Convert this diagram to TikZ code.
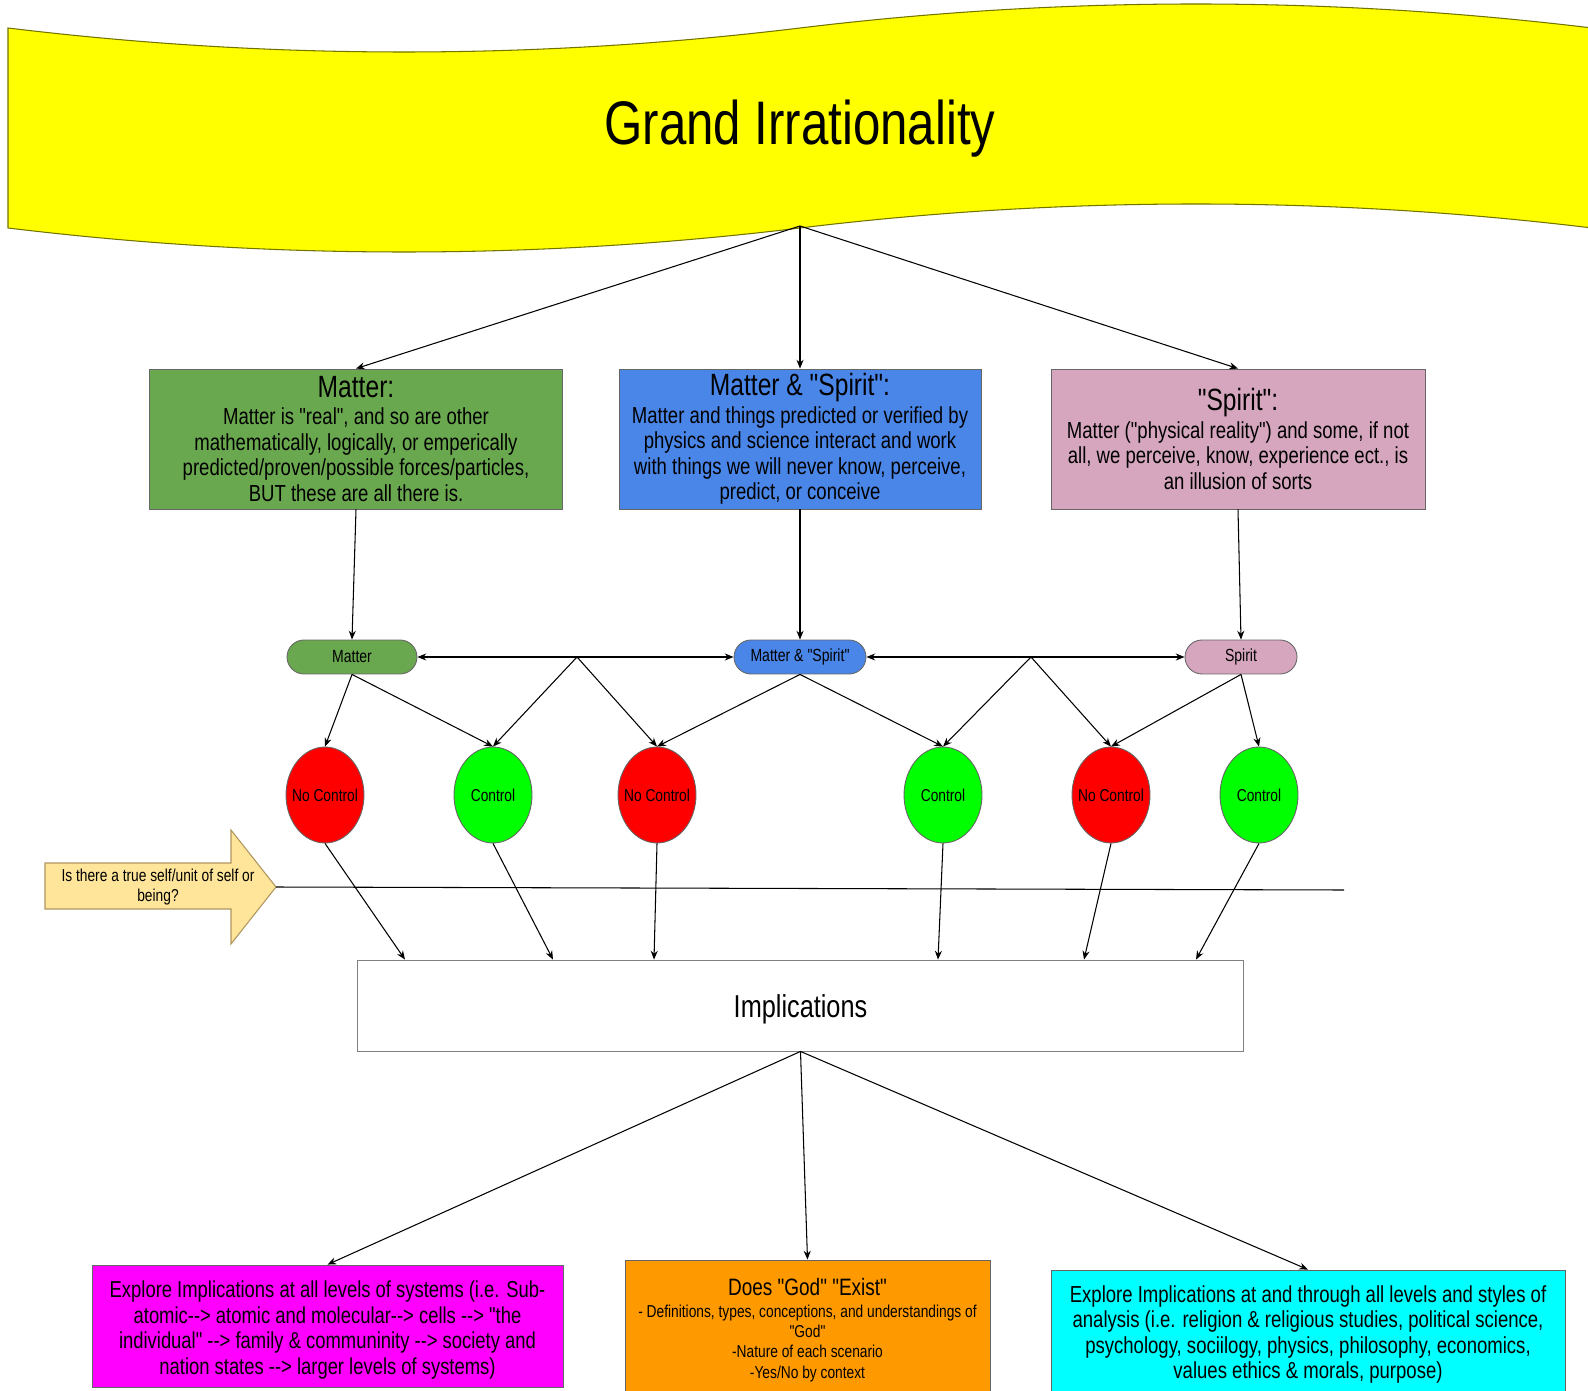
\documentclass[tikz,border=0pt]{standalone}
\usepackage{fontspec}
\setmainfont{Liberation Sans}[FakeStretch=0.8,Ligatures=TeXOff]
\usetikzlibrary{arrows.meta,shapes.geometric}
\definecolor{bannery}{RGB}{255,255,0}
\definecolor{matgreen}{RGB}{106,168,79}
\definecolor{msblue}{RGB}{74,134,232}
\definecolor{spink}{RGB}{213,166,189}
\definecolor{nored}{RGB}{255,0,0}
\definecolor{yesgreen}{RGB}{0,255,0}
\definecolor{selffill}{RGB}{255,229,153}
\definecolor{selfline}{RGB}{175,150,95}
\definecolor{levmagenta}{RGB}{255,0,255}
\definecolor{godorange}{RGB}{255,153,0}
\definecolor{stycyan}{RGB}{0,255,255}
\begin{document}
\begin{tikzpicture}[x=0.02cm,y=-0.02cm,
  >={Stealth[length=5pt,width=4pt]},
  link/.style={->,line width=0.6pt},
  bigbox/.style={draw=black!60,line width=0.5pt,minimum height=2.8cm,align=center,inner sep=1pt,font=\fontsize{13.2}{14.5}\selectfont},
  boxtext/.style={align=center,inner sep=0pt,font=\fontsize{13.2}{14.5}\selectfont},
  pill/.style={draw=black!60,line width=0.5pt,rounded corners=0.34cm,minimum height=0.68cm,inner sep=0pt,font=\fontsize{10}{12}\selectfont},
  ctrl/.style={ellipse,draw=black!60,line width=0.5pt,minimum width=1.56cm,minimum height=1.92cm,inner sep=0pt,font=\fontsize{9.8}{12}\selectfont}]
\useasboundingbox (0,0) rectangle (1588,1391);

\filldraw[fill=bannery,draw=bannery!45!black,line width=0.6pt]
  (8,28) .. controls (272,60) and (536,60) .. (800,28)
  .. controls (1064,-4) and (1328,-4) .. (1592,28)
  -- (1592,228) .. controls (1328,196) and (1064,196) .. (800,228)
  .. controls (536,260) and (272,260) .. (8,228) -- cycle;
\node (title) at (800,129) {\fontsize{35}{40}\selectfont Grand Irrationality};
\coordinate (apex) at (800,226);

\node[bigbox,fill=matgreen,minimum width=8.26cm] (matter) at (356,439)
  {{\fontsize{17.5}{21}\selectfont Matter:}\\[1pt]
   Matter is "real", and so are other\\
   mathematically, logically, or emperically\\
   predicted/proven/possible forces/particles,\\
   BUT these are all there is.};
\node[bigbox,fill=msblue,minimum width=7.24cm] (both) at (800,439)
  {{\fontsize{17.5}{21}\selectfont Matter \& "Spirit":}\\[1pt]
   Matter and things predicted or verified by\\
   physics and science interact and work\\
   with things we will never know, perceive,\\
   predict, or conceive};
\node[bigbox,fill=spink,minimum width=7.48cm] (spirit) at (1238,439)
  {{\fontsize{17.5}{21}\selectfont "Spirit":}\\[1pt]
   Matter ("physical reality") and some, if not\\
   all, we perceive, know, experience ect., is\\
   an illusion of sorts};

\draw[link] (apex) -- (matter.north);
\draw[link] (apex) -- (both.north);
\draw[link] (apex) -- (spirit.north);

\node[pill,fill=matgreen,minimum width=2.6cm] (pmatter) at (352,657) {Matter};
\node[pill,fill=msblue,minimum width=2.64cm] (pboth) at (800,657) {Matter \& "Spirit"};
\node[pill,fill=spink,minimum width=2.24cm] (pspirit) at (1241,657) {Spirit};

\draw[link] (matter.south) -- (pmatter.north);
\draw[link] (both.south) -- (pboth.north);
\draw[link] (spirit.south) -- (pspirit.north);

\draw[<->,line width=0.6pt] (pmatter.east) -- (pboth.west);
\draw[<->,line width=0.6pt] (pboth.east) -- (pspirit.west);
\coordinate (fork1) at (577,657);
\coordinate (fork2) at (1031,657);

\node[ctrl,fill=nored] (nc1) at (325,795) {\makebox[0pt]{No Control}};
\node[ctrl,fill=yesgreen] (c1) at (493,795) {\makebox[0pt]{Control}};
\node[ctrl,fill=nored] (nc2) at (657,795) {\makebox[0pt]{No Control}};
\node[ctrl,fill=yesgreen] (c2) at (943,795) {\makebox[0pt]{Control}};
\node[ctrl,fill=nored] (nc3) at (1111,795) {\makebox[0pt]{No Control}};
\node[ctrl,fill=yesgreen] (c3) at (1259,795) {\makebox[0pt]{Control}};

\draw[link] (pmatter.south) -- (nc1.north);
\draw[link] (pmatter.south) -- (c1.north);
\draw[link] (fork1) -- (c1.north);
\draw[link] (fork1) -- (nc2.north);
\draw[link] (pboth.south) -- (nc2.north);
\draw[link] (pboth.south) -- (c2.north);
\draw[link] (fork2) -- (c2.north);
\draw[link] (fork2) -- (nc3.north);
\draw[link] (pspirit.south) -- (nc3.north);
\draw[link] (pspirit.south) -- (c3.north);

\filldraw[fill=selffill,draw=selfline,line width=0.6pt]
  (45,863) -- (231,863) -- (231,830) -- (276,887) -- (231,944) -- (231,909) -- (45,909) -- cycle;
\node[align=center,font=\fontsize{9.8}{11.5}\selectfont] (self) at (158,887)
  {Is there a true self/unit of self or\\being?};
\coordinate (selftip) at (276,887);
\coordinate (selfend) at (1344,890);
\draw[line width=0.6pt] (selftip) -- (selfend);

\node[draw=black!50,line width=0.5pt,minimum width=17.74cm,minimum height=1.82cm] (impl) at (800.5,1005.5) {};
\node[font=\fontsize{18}{21}\selectfont] (impltext) at (800.5,1009.5) {Implications};

\draw[link] (nc1.south) -- (405,0 |- impl.north);
\draw[link] (c1.south) -- (553,0 |- impl.north);
\draw[link] (nc2.south) -- (654,0 |- impl.north);
\draw[link] (c2.south) -- (938,0 |- impl.north);
\draw[link] (nc3.south) -- (1084,0 |- impl.north);
\draw[link] (c3.south) -- (1196,0 |- impl.north);

\node[bigbox,fill=levmagenta,minimum width=9.42cm,minimum height=2.44cm] (levels) at (327.5,1326) {};
\node[boxtext,font=\fontsize{13.1}{14.5}\selectfont] (levelstext) at (327.5,1330)
  {Explore Implications at all levels of systems (i.e. Sub-\\
   atomic--> atomic and molecular--> cells --> "the\\
   individual" --> family \& communinity --> society and\\
   nation states --> larger levels of systems)};
\node[bigbox,fill=godorange,minimum width=7.3cm,font=\fontsize{9.8}{11.5}\selectfont] (god) at (807.5,1330)
  {{\fontsize{13.5}{16}\selectfont Does "God" "Exist"}\\[1pt]
   - Definitions, types, conceptions, and understandings of\\
   "God"\\
   -Nature of each scenario\\
   -Yes/No by context};
\node[bigbox,fill=stycyan,minimum width=10.28cm,minimum height=2.5cm] (styles) at (1308,1332.5) {};
\node[boxtext] (stylestext) at (1308,1334.5)
  {Explore Implications at and through all levels and styles of\\
   analysis (i.e. religion \& religious studies, political science,\\
   psychology, sociilogy, physics, philosophy, economics,\\
   values ethics \& morals, purpose)};

\draw[link] (impl.south) -- (levels.north);
\draw[link] (impl.south) -- (god.north);
\draw[link] (impl.south) -- (styles.north);
\end{tikzpicture}
\end{document}
